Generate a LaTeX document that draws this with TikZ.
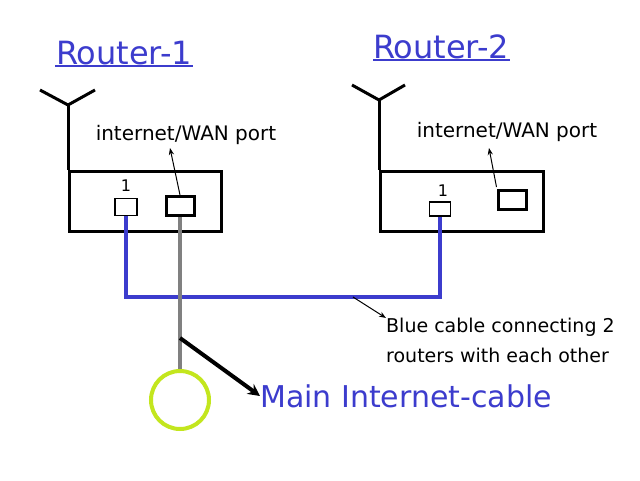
\documentclass[tikz,border=0pt]{standalone}
\usepackage{fontspec}
\setmainfont{DejaVu Sans}
\usetikzlibrary{arrows.meta}
\definecolor{cblue}{RGB}{60,60,205}
\definecolor{cgreen}{RGB}{195,230,30}
\begin{document}
\begin{tikzpicture}[x=1pt,y=-1pt,
  box/.style={draw=black,line width=3pt},
  port/.style={draw=black,line width=1.5pt},
  wport/.style={draw=black,line width=3pt},
  title/.style={text=cblue,font=\fontsize{32}{34}\selectfont,inner sep=1pt},
  lbl/.style={font=\fontsize{20}{22}\selectfont,inner sep=0},
  pointer/.style={draw=black,line width=1pt,-{Stealth[length=7pt]}}]
\useasboundingbox (0,0) rectangle (640,480);
\fill[white] (0,0) rectangle (640,480);
% titles
\node[title,anchor=south] (t1) at (124,66) {Router-1};
\draw[cblue,line width=1.5pt] (55,66) -- (193,66);
\node[title,anchor=south] (t2) at (441,60) {Router-2};
\draw[cblue,line width=1.5pt] (373,60) -- (510,60);
% router 1
\draw[line width=3pt] (40,90) -- (68,105) -- (95,90);
\draw[line width=3pt] (68,105) -- (68,170);
\node[box,minimum width=152pt,minimum height=60pt,anchor=north west,inner sep=0] (r1) at (68,170) {};
\node[port,minimum width=22pt,minimum height=17pt,inner sep=0] (p1) at (126,207) {};
\node[lbl,font=\fontsize{16}{18}\selectfont] (n1) at (126,186) {1};
\node[wport,minimum width=28pt,minimum height=19pt,inner sep=0] (w1) at (180,206) {};
\node[lbl] (l1) at (186,135) {internet/WAN port};
% router 2
\draw[line width=3pt] (352,85) -- (379,100) -- (405,85);
\draw[line width=3pt] (379,100) -- (379,170);
\node[box,minimum width=163pt,minimum height=60pt,anchor=north west,inner sep=0] (r2) at (379,170) {};
\node[port,minimum width=21pt,minimum height=14pt,inner sep=0] (p2) at (440,209) {};
\node[lbl,font=\fontsize{16}{18}\selectfont] (n2) at (443,191) {1};
\node[wport,minimum width=28pt,minimum height=19pt,inner sep=0] (w2) at (512,200) {};
\node[lbl] (l2) at (507,132) {internet/WAN port};
% WAN pointers
\draw[pointer] (w1.north) -- (170,148);
\draw[pointer] (w2.north west) ++(0,-2) -- (489,148);
% blue cable
\coordinate (bj) at (353,297);
\draw[cblue,line width=4pt] (p1.south) -- (126,297) -- (440,297) -- (p2.south);
% gray cable and circle
\node[draw=cgreen,line width=4pt,circle,minimum size=58pt,inner sep=0] (c) at (180,400) {};
\draw[gray,line width=4pt] (w1.south) -- (c.north);
% main cable label
\node[text=cblue,anchor=west,font=\fontsize{30}{32}\selectfont,inner sep=0] (mc) at (260,396) {Main Internet-cable};
\draw[black,line width=4pt,-{Stealth[length=12pt,width=12pt]}] (180,338) -- (mc.west);
% blue cable label
\node[lbl,anchor=north west,align=left,font=\fontsize{19}{21}\selectfont] (bl) at (386,318) {Blue cable connecting 2\\[9pt]routers with each other};
\draw[pointer] (bj) -- (bl.north west);
\end{tikzpicture}
\end{document}
